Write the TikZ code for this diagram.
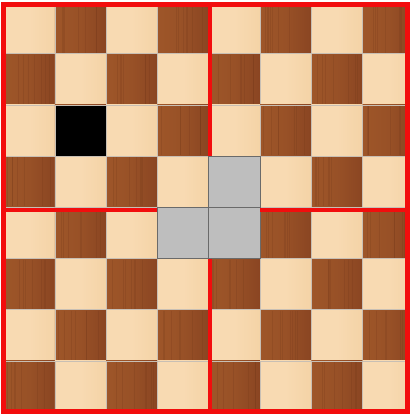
\documentclass[tikz,border=0pt]{standalone}
\definecolor{lightwood}{HTML}{F8DAB2}
\definecolor{lightwood2}{HTML}{F4D3A6}
\definecolor{darkwood}{HTML}{8A4522}
\definecolor{darkwood2}{HTML}{9E5629}
\definecolor{woodstreak}{HTML}{6E3418}
\definecolor{gridgray}{HTML}{C8BFB4}
\definecolor{tromino}{HTML}{BEBEBE}
\definecolor{trominoedge}{HTML}{6A6A6A}
\definecolor{boardred}{HTML}{F20D0D}
\tikzset{
  lightsq/.style={left color=lightwood, right color=lightwood2, middle color=lightwood, draw=gridgray, line width=0.6pt},
  darksq/.style={left color=darkwood2, right color=darkwood, middle color=darkwood2!70!darkwood, draw=gridgray, line width=0.6pt},
  streak/.style={woodstreak, opacity=0.2, line width=0.8pt},
  graysq/.style={fill=tromino, draw=trominoedge, line width=0.8pt},
  blacksq/.style={fill=black, draw=gridgray, line width=0.6pt},
  redline/.style={boardred, line width=5pt},
  redmid/.style={boardred, line width=4pt}
}
\begin{document}
\begin{tikzpicture}[x=1pt,y=-1pt]
\useasboundingbox (0,0) rectangle (410,414);
\fill[white] (0,0) rectangle (410,414);
\pgfmathsetseed{7}
\begin{scope}
\clip (3.5,4.5) rectangle (407.5,411);
\foreach \r in {0,...,7} {
  \foreach \c in {0,...,7} {
    \pgfmathsetmacro\xa{3.5+51.3*\c}
    \pgfmathsetmacro\ya{2.5+51.2*\r}
    \pgfmathsetmacro\xb{\xa+51.3}
    \pgfmathsetmacro\yb{\ya+51.2}
    \pgfmathtruncatemacro\parity{mod(\r+\c,2)}
    \ifnum\parity=0
      \path[lightsq] (\xa,\ya) rectangle (\xb,\yb);
    \else
      \path[darksq] (\xa,\ya) rectangle (\xb,\yb);
      \foreach \k in {1,...,7} {
        \pgfmathsetmacro\sx{\xa+3+44*rnd}
        \draw[streak] (\sx,\ya+1) -- (\sx,\yb-1);
      }
    \fi
  }
}
\end{scope}
% black square
\path[blacksq] (54.8,104.9) rectangle (106.1,156.1);
% gray L-tromino
\path[graysq] (208.7,156.1) rectangle (260,207.3);
\path[graysq] (157.4,207.3) rectangle (208.7,258.5);
\path[graysq] (208.7,207.3) rectangle (260,258.5);
% red quadrant lines
\draw[redmid] (209.5,4.5) -- (209.5,156.1);
\draw[redmid] (209.5,258.5) -- (209.5,411);
\draw[redmid] (3.5,209.5) -- (157.4,209.5);
\draw[redmid] (260,209.5) -- (407.5,209.5);
% outer border
\draw[redline] (3.5,4.5) rectangle (407.5,411);
\end{tikzpicture}
\end{document}
